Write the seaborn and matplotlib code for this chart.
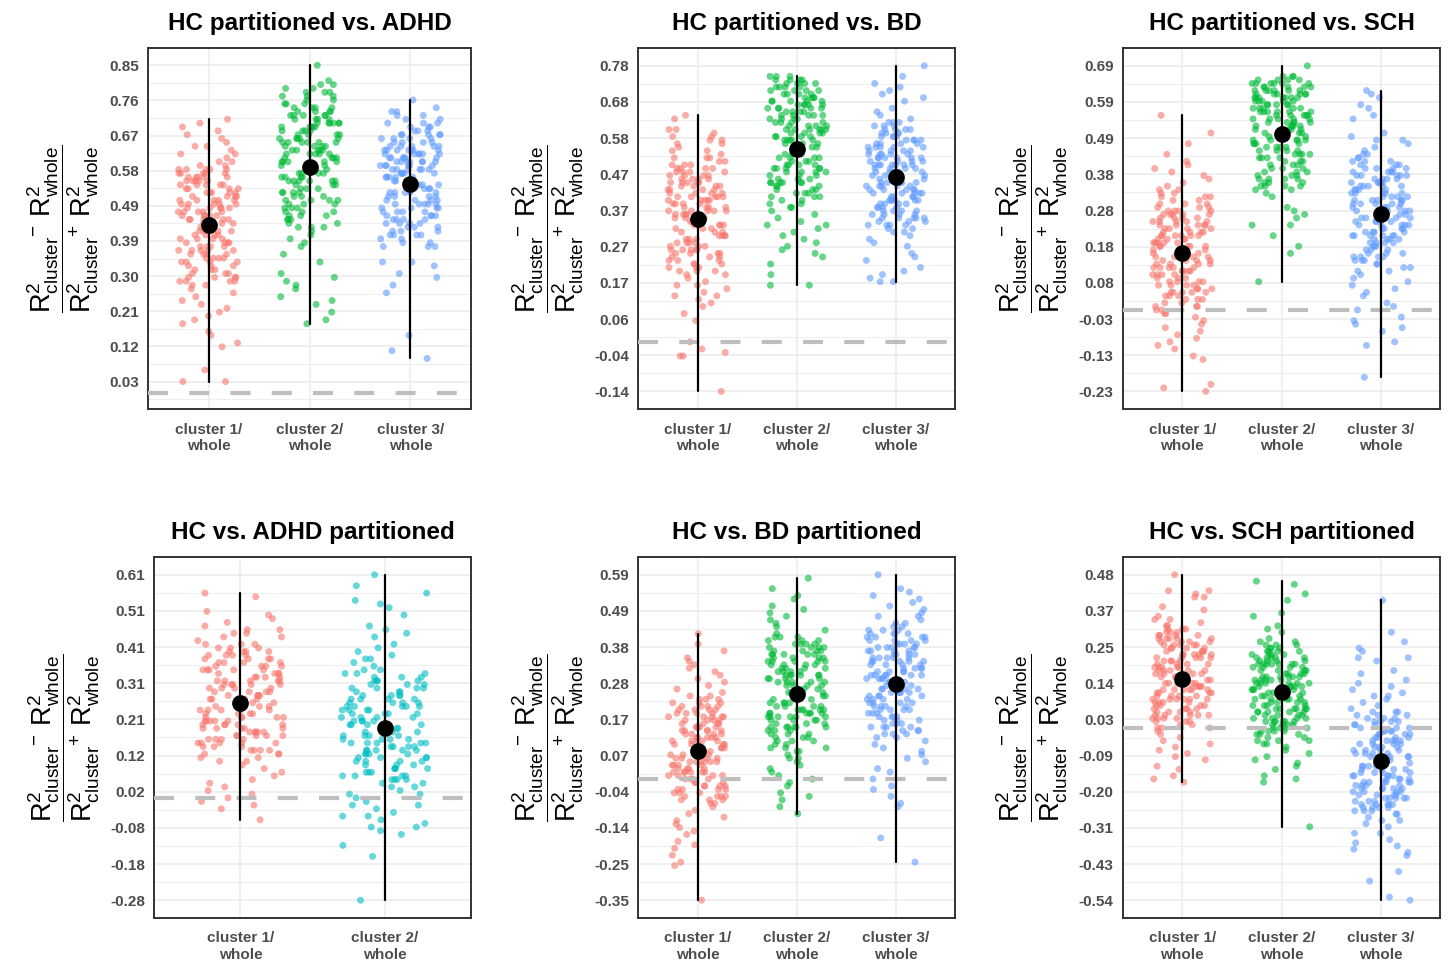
import numpy as np
import pandas as pd
import matplotlib
matplotlib.use("Agg")
import matplotlib.pyplot as plt
import seaborn as sns

# ---------------- data (values in hundredths) ----------------
CATS = ["cluster 1/\nwhole", "cluster 2/\nwhole", "cluster 3/\nwhole"]
TITLES = ["HC partitioned vs. ADHD", "HC partitioned vs. BD", "HC partitioned vs. SCH",
          "HC vs. ADHD partitioned", "HC vs. BD partitioned", "HC vs. SCH partitioned"]
PAL3 = ["#F8766D", "#00BA38", "#619CFF"]
PAL2 = ["#F8766D", "#00BFC4"]

P1_C1 = [3, 3, 6, 12, 13, 15, 16, 18, 19, 20, 21, 22,
         23, 24, 25, 26, 27, 28, 29, 29, 30, 30,
         31, 32, 33, 34, 34, 35, 35, 36, 36, 37, 37, 38, 38, 39, 39, 40, 40,
         41, 41, 42, 42, 43, 43, 44, 44, 44, 45, 45, 45, 46, 46, 46, 47, 47, 47, 48, 48, 48, 49, 49, 49, 50, 50,
         51, 51, 52, 52, 52, 53, 53, 54, 54, 54, 55, 55, 55, 56, 56, 56, 57, 57, 57, 58, 58, 58, 59, 60,
         60, 61, 62, 62, 63, 64, 64, 65, 66, 67, 68, 69, 70, 71]
P1_C1_CORE = [42, 41, 40, 39, 38, 37, 36, 35, 34, 33, 32, 31, 30, 29, 28, 41, 39, 37, 35, 33, 31, 29, 40, 38, 36, 34, 32, 30, 42, 37,
              45, 46, 47, 48, 49, 50, 51, 52, 53, 54, 55, 56, 57, 58, 59, 46, 48, 50, 52, 54, 56, 58, 47, 49, 51, 53, 55, 57, 45, 50]
P1_C2 = [18, 19, 21, 23, 24, 25, 27, 28, 29, 30, 31, 34, 36, 38,
         39, 40, 41, 42, 43, 43, 44, 45, 46, 47, 48, 49,
         50, 50, 51, 52, 53, 54, 55, 55, 56, 57, 58, 59,
         60, 60, 61, 62, 63, 63, 64, 65, 65, 66, 67, 68, 69, 69,
         70, 70, 71, 72, 72, 73, 74, 74, 75, 76, 77, 78, 79,
         80, 81, 85,
         55, 58, 60, 62, 64, 66, 68, 70, 71, 73, 75, 77, 78, 56, 63, 67, 72, 74, 76, 61, 65, 69, 57, 59,
         78, 79, 80, 73, 66, 70, 75, 77]
P1_C2_CORE = [57, 57, 56, 55, 55, 54, 53, 52, 52, 51, 50, 49, 49, 48, 47, 46, 46, 45, 44, 43, 56, 54, 53, 51, 50, 48, 47, 45, 55, 52,
              60, 60, 61, 62, 62, 63, 64, 65, 65, 66, 67, 68, 68, 69, 70, 71, 71, 72, 73, 74, 61, 63, 64, 66, 67, 69, 70, 72, 62, 65]
P1_C3 = [9, 11, 15, 26, 28, 30, 31, 33, 34, 34,
         38, 38, 39, 40, 41, 41, 42, 43, 44, 44, 45, 46, 46, 60, 61, 63,
         47, 47, 48, 48, 49, 49, 50, 50, 51, 51, 52, 52, 53, 53, 54, 54, 55, 55, 56, 56,
         57, 57, 58, 58, 59, 59, 60, 60, 61, 61, 62, 62, 63, 63, 64, 64, 65, 66,
         67, 67, 68, 69, 70, 71, 72, 73, 74, 76,
         52, 55, 57, 58, 59, 60, 61, 62, 63, 64, 65, 66, 67, 68, 69, 70, 71, 72, 73, 60, 62, 58, 56, 54]
P1_C3_CORE = [52, 51, 50, 49, 48, 47, 46, 45, 44, 43, 42, 41, 40, 39, 38, 53, 51, 49, 47, 45, 43, 41, 50, 48, 46, 44, 42, 52, 49, 45,
              56, 57, 58, 59, 60, 61, 62, 63, 64, 65, 66, 67, 68, 69, 70, 55, 57, 59, 61, 63, 65, 67, 58, 60, 62, 64, 66, 56, 59, 63]

P2_C1 = [-14, -4, -4, -3, -2, 0, 6, 8, 10, 11,
         12, 13, 13, 14, 15, 16, 16, 17, 18, 19, 20, 21, 22,
         23, 24, 25, 25, 26, 26, 27, 28, 29, 30, 31, 32,
         33, 33, 34, 35, 35, 36, 37, 37, 38, 39, 40, 40, 41, 42,
         43, 44, 45, 45, 46, 47, 48, 49, 50, 51, 52, 52,
         53, 54, 55, 56, 57, 58, 59, 60, 60, 63, 64,
         26, 30, 33, 36, 38, 40, 42, 44, 46, 48, 50, 52, 54, 37, 41, 45, 49, 35, 39, 43, 47, 51, 34, 56, 57, 58]
P2_C1_CORE = [33, 32, 31, 30, 29, 28, 27, 26, 25, 24, 23, 22, 21, 20, 19, 32, 30, 28, 26, 24, 22, 20, 31, 29, 27, 25, 23, 21, 33, 28,
              36, 37, 38, 39, 40, 41, 42, 43, 44, 45, 46, 47, 48, 49, 50, 37, 39, 41, 43, 45, 47, 49, 38, 40, 42, 44, 46, 48, 36, 41]
P2_C2 = [16, 16, 19, 22, 24, 25, 26, 27, 28, 29,
         30, 31, 32, 33, 33, 34, 35, 36, 37, 38, 39,
         40, 41, 42, 43, 44, 45, 45, 46, 47, 48, 49, 49,
         50, 51, 52, 53, 54, 55, 56, 57, 57, 58, 59, 59,
         60, 61, 62, 63, 64, 65, 66, 67, 68, 69, 69, 68, 67, 66,
         70, 70, 71, 71, 72, 72, 73, 73, 74, 74, 75, 75, 72, 73,
         45, 48, 50, 53, 55, 58, 60, 62, 64, 66, 68, 70, 71, 72, 73, 74, 74, 75, 57, 61, 65, 69, 52, 63, 67, 56, 60]
P2_C2_CORE = [52, 51, 50, 49, 48, 47, 46, 45, 44, 43, 42, 41, 40, 39, 38, 53, 51, 49, 47, 45, 43, 41, 50, 48, 46, 44, 42, 52, 49, 45,
              57, 58, 59, 60, 61, 62, 63, 64, 65, 66, 67, 68, 69, 70, 71, 56, 58, 60, 62, 64, 66, 68, 59, 61, 63, 65, 67, 57, 60, 64]
P2_C3 = [17, 17, 18, 19, 20, 21, 23, 24, 25, 27, 28, 29,
         30, 31, 32, 33, 33, 34, 35, 35, 36, 37, 37, 38, 39, 39,
         40, 40, 41, 42, 42, 43, 44, 44, 45, 45, 46, 46, 47, 48, 48, 49,
         50, 50, 51, 52, 52, 53, 54, 55, 55, 56, 57, 58, 59,
         60, 61, 62, 63, 65, 66, 68, 69,
         70, 71, 72, 73, 75, 78,
         38, 40, 42, 44, 46, 48, 50, 52, 54, 56, 58, 60, 43, 47, 51, 55, 59, 41, 45, 49, 53, 57, 36, 62, 64, 35, 61, 50, 52, 47]
P2_C3_CORE = [45, 45, 44, 43, 43, 42, 41, 40, 40, 39, 38, 37, 37, 36, 35, 34, 34, 33, 32, 31, 44, 42, 41, 39, 38, 36, 35, 33, 43, 40,
              48, 48, 49, 50, 50, 51, 52, 53, 53, 54, 55, 56, 56, 57, 58, 59, 59, 60, 61, 62, 49, 51, 52, 54, 55, 57, 58, 60, 50, 53]

P3_C1 = [-23, -22, -21, -14, -13, -11, -10, -9, -8, -7, -6, -5, -4, -3, -2, -1, -1,
         0, 1, 1, 2, 3, 4, 5, 5, 6, 7, 8, 9,
         10, 11, 12, 12, 13, 14, 15, 15, 16, 17, 18, 18, 19, 19,
         20, 21, 22, 23, 24, 25, 26, 27, 28, 29, 21, 24, 27,
         30, 31, 32, 33, 34, 35, 36, 37, 38, 39,
         40, 41, 42, 44, 47, 50, 55,
         5, 8, 10, 12, 14, 16, 18, 20, 22, 24, 26, 28, 30, 32, 34, 15, 17, 19, 21, 23, 13, 11, 25, 27, 33]
P3_C1_CORE = [14, 13, 12, 11, 10, 9, 8, 7, 6, 5, 4, 3, 2, 1, 0, 15, 13, 11, 9, 7, 5, 3, 12, 10, 8, 6, 4, 14, 11, 7,
              18, 19, 20, 21, 22, 23, 24, 25, 26, 27, 28, 29, 30, 31, 32, 17, 19, 21, 23, 25, 27, 29, 20, 22, 24, 26, 28, 18, 21, 25]
P3_C2 = [8, 16, 18, 21, 24, 24, 26, 27, 28, 29,
         32, 33, 34, 35, 35, 36, 37, 37, 38, 39, 60, 61,
         40, 41, 42, 43, 44, 44, 45, 46, 46, 47, 48, 48, 49, 49,
         50, 50, 51, 52, 53, 54, 55, 55, 56, 57, 58, 59, 59, 52, 54, 57,
         60, 60, 61, 62, 62, 63, 64, 65, 66, 69, 61, 63, 64,
         45, 48, 50, 53, 55, 56, 58, 60, 61, 62, 63, 64, 65, 66, 47, 51, 54, 57, 59, 52, 60, 62, 64, 49, 58, 56, 53, 65, 66, 50]
P3_C2_CORE = [48, 47, 46, 45, 44, 43, 42, 41, 40, 39, 38, 37, 36, 35, 34, 47, 45, 43, 41, 39, 37, 35, 46, 44, 42, 40, 38, 36, 48, 43,
              51, 52, 53, 54, 55, 56, 57, 58, 59, 60, 61, 62, 63, 64, 65, 52, 54, 56, 58, 60, 62, 64, 53, 55, 57, 59, 61, 63, 51, 56]
P3_C3 = [-19, -10, -9, -6, -5, -4, -3, -2, 0, 1,
         2, 4, 5, 6, 7, 8, 9, 10, 11, 11,
         12, 13, 14, 15, 15, 16, 17, 18, 19, 20, 21, 21,
         22, 23, 24, 25, 26, 26, 27, 28, 29, 30, 31, 31,
         32, 33, 34, 35, 35, 36, 37, 38, 39, 40, 41,
         42, 43, 44, 46, 48, 49, 50,
         54, 55, 57, 58, 60, 61, 62,
         20, 22, 24, 26, 28, 30, 32, 34, 36, 38, 40, 42, 44, 25, 29, 33, 37, 41, 27, 31, 35, 39, 23, 45, 43, 47, 19, 21, 36, 38, 48]
P3_C3_CORE = [26, 26, 25, 24, 24, 23, 22, 21, 21, 20, 19, 18, 18, 17, 16, 15, 15, 14, 13, 12, 25, 23, 22, 20, 19, 17, 16, 14, 24, 21,
              28, 28, 29, 30, 30, 31, 32, 33, 33, 34, 35, 36, 36, 37, 38, 39, 39, 40, 41, 42, 29, 31, 32, 34, 35, 37, 38, 40, 30, 33]

P4_C1 = [-6, -3, -2, -1, 0, 1, 2, 3, 4, 6, 8, 5, 9, 7,
         10, 11, 12, 13, 14, 15, 15, 16, 17, 17, 18, 18, 19, 19,
         20, 20, 21, 22, 22, 23, 24, 24, 25, 26, 27, 27, 28, 29,
         30, 31, 32, 32, 33, 34, 35, 36, 37, 38, 39, 39,
         40, 40, 41, 42, 43, 44, 45, 46, 46, 47, 48,
         49, 50, 51, 55, 56,
         12, 15, 18, 20, 22, 25, 28, 30, 32, 35, 38, 40, 42, 44, 16, 19, 23, 27, 31, 34, 37, 41, 13, 26, 29, 33, 36, 24, 21, 45]
P4_C1_CORE = [24, 23, 22, 21, 20, 19, 18, 17, 16, 15, 14, 13, 12, 11, 10, 25, 23, 21, 19, 17, 15, 13, 22, 20, 18, 16, 14, 24, 21, 17,
              28, 29, 30, 31, 32, 33, 34, 35, 36, 37, 38, 39, 40, 41, 42, 27, 29, 31, 33, 35, 37, 39, 30, 32, 34, 36, 38, 28, 31, 35]
P4_C2 = [-28, -16, -13, -10, -9, -8, -8, -7, -6, -5, -4, -3, -2, -1, -2, -5,
         0, 1, 1, 2, 3, 4, 5, 6, 6, 7, 8, 9,
         10, 11, 12, 13, 14, 15, 15, 16, 17, 18, 19,
         20, 21, 22, 23, 24, 25, 26, 27, 28, 29,
         30, 31, 32, 33, 34, 35, 36, 37, 38, 39,
         40, 41, 42, 44, 45, 46, 47,
         50, 52, 53, 54, 56, 58, 61,
         5, 10, 15, 20, 25, 30, 35, 8, 12, 18, 22, 28, 32, 38, 3, 14, 24, 34, 17, 21, 27, 11, 16, 26, 19, 23, 13]
P4_C2_CORE = [18, 17, 16, 15, 14, 13, 12, 11, 10, 9, 8, 7, 6, 5, 4, 17, 15, 13, 11, 9, 7, 5, 16, 14, 12, 10, 8, 6, 18, 13,
              20, 21, 22, 23, 24, 25, 26, 27, 28, 29, 30, 31, 32, 33, 34, 21, 23, 25, 27, 29, 31, 33, 22, 24, 26, 28, 30, 32, 20, 25]

P5_C1 = [-35, -25, -24, -22, -20, -19, -18, -16, -15, -14, -13, -12, -11,
         -10, -9, -8, -7, -6, -5, -4, -3, -2, -1, -5, -3,
         0, 1, 2, 3, 4, 5, 6, 7, 8, 9, 2, 5, 7,
         10, 11, 12, 13, 14, 15, 16, 17, 18, 19, 12, 15, 18,
         20, 21, 22, 23, 24, 25, 27, 29,
         31, 32, 33, 34, 35, 37, 39, 42,
         0, 3, 6, 9, 12, 15, 18, 21, 24, 2, 5, 8, 11, 14, 17, 20, 23, 4, 10, 16, 22, 1, 13, 19, 7, -2, -6, 26, 28, 30]
P5_C1_CORE = [7, 7, 6, 5, 5, 4, 3, 2, 2, 1, 0, -1, -1, -2, -3, -4, -4, -5, -6, -7, 6, 4, 3, 1, 0, -2, -3, -5, 5, 2,
              9, 9, 10, 11, 11, 12, 13, 14, 14, 15, 16, 17, 17, 18, 19, 20, 20, 21, 22, 23, 10, 12, 13, 15, 16, 18, 19, 21, 11, 14]
P5_C2 = [-10, -8, -6, -5, -4, -2, -1, 0, 1, 2, 18, 19,
         3, 4, 5, 6, 7, 8, 9, 10, 11, 12, 6, 9,
         13, 14, 15, 16, 17, 18, 19, 20, 21, 22, 15, 18, 20,
         23, 24, 25, 26, 27, 28, 29, 30, 31, 32, 25, 28, 30,
         33, 34, 35, 36, 37, 38, 39, 40, 41, 42, 36, 39,
         43, 44, 45, 46, 47, 48, 49, 50, 52, 53, 55, 58,
         15, 18, 20, 22, 24, 26, 28, 30, 32, 34, 36, 38, 40, 17, 21, 25, 29, 33, 37, 19, 23, 27, 31, 35, 39, 41]
P5_C2_CORE = [22, 21, 20, 19, 18, 17, 16, 15, 14, 13, 12, 11, 10, 9, 8, 23, 21, 19, 17, 15, 13, 11, 20, 18, 16, 14, 12, 22, 19, 15,
              27, 28, 29, 30, 31, 32, 33, 34, 35, 36, 37, 38, 39, 40, 41, 26, 28, 30, 32, 34, 36, 38, 29, 31, 33, 35, 37, 27, 30, 34]
P5_C3 = [-24, -17, -8, -7, -5, -3, -2, 0, 30,
         2, 3, 5, 6, 7, 8, 9, 10, 11,
         12, 13, 14, 15, 16, 17, 18, 19, 20, 21, 15, 18,
         22, 23, 24, 25, 26, 27, 28, 29, 30, 31, 25, 28, 30,
         32, 33, 34, 35, 36, 37, 38, 39, 40, 41, 35, 38,
         42, 43, 44, 45, 46, 47, 48, 49, 50, 51,
         52, 53, 54, 55, 59,
         20, 23, 26, 29, 32, 35, 38, 41, 44, 22, 25, 28, 31, 34, 37, 40, 43, 24, 27, 30, 33, 36, 39, 42, 45, 47]
P5_C3_CORE = [26, 25, 24, 23, 22, 21, 20, 19, 18, 17, 16, 15, 14, 13, 12, 25, 23, 21, 19, 17, 15, 13, 24, 22, 20, 18, 16, 14, 26, 21,
              29, 30, 31, 32, 33, 34, 35, 36, 37, 38, 39, 40, 41, 42, 43, 30, 32, 34, 36, 38, 40, 42, 31, 33, 35, 37, 39, 41, 29, 34]

P6_C1 = [-17, -16, -15, -13, -12, -10, -9, -8, -7, -5, -4, -3, -1, 0, -2, -6, 0,
         1, 2, 3, 4, 5, 6, 7, 8, 9, 10, 4, 7, 9,
         11, 12, 13, 14, 15, 16, 17, 18, 19, 20, 12, 14, 16, 18,
         21, 22, 23, 24, 25, 26, 27, 28, 29, 30, 23, 26, 28,
         31, 32, 33, 34, 35, 37, 38,
         41, 41, 42, 43, 43, 48,
         5, 8, 11, 14, 17, 20, 23, 26, 29, 32, 6, 9, 12, 15, 18, 21, 24, 27, 30, 13, 16, 19, 22, 25, 10, 28, 31, 3, 34, 4]
P6_C1_CORE = [14, 14, 13, 12, 12, 11, 10, 9, 9, 8, 7, 6, 6, 5, 4, 3, 3, 2, 1, 0, 13, 11, 10, 8, 7, 5, 4, 2, 12, 9,
              17, 17, 18, 19, 19, 20, 21, 22, 22, 23, 24, 25, 25, 26, 27, 28, 28, 29, 30, 31, 18, 20, 21, 23, 24, 26, 27, 29, 19, 22]
P6_C2 = [-31, -17, -16, -15, -13, -12, -11, -10, -9, -8, -7, -6, -5, -4, -3,
         -2, -1, 0, 1, 2, 3, 4, 5, 6, 7, 2, 5,
         8, 9, 10, 11, 12, 13, 14, 15, 16, 17, 10, 12, 14, 16, 11, 13,
         18, 19, 20, 21, 22, 23, 24, 25, 26, 27, 20, 22,
         28, 30, 31, 32, 35, 36, 40, 42, 45, 46,
         0, 3, 6, 9, 12, 15, 18, 21, 24, 1, 4, 7, 10, 13, 16, 19, 22, 2, 5, 8, 11, 14, 17, 20, 23, -4, -1, 6, 9, 13, 15, 25, 14, 26, 20]
P6_C2_CORE = [9, 8, 7, 6, 5, 4, 3, 2, 1, 0, -1, -2, -3, -4, -5, 10, 8, 6, 4, 2, 0, -2, 7, 5, 3, 1, -1, 9, 6, 2,
              13, 14, 15, 16, 17, 18, 19, 20, 21, 22, 23, 24, 25, 26, 27, 12, 14, 16, 18, 20, 22, 24, 15, 17, 19, 21, 23, 13, 16, 20]
P6_C3 = [40, 30, 27, 25, 24, 22, 22, 21, 18, 17, 15, 14, 13, 12, 11, 10, 10,
         9, 8, 7, 6, 5, 4, 3, 2, 1, 0, 5, 2,
         -1, -2, -3, -4, -5, -6, -7, -8, -9, -10, -3, -6, -8,
         -11, -12, -13, -14, -15, -16, -17, -18, -19, -20, -13, -15, -17, -19,
         -21, -22, -23, -24, -25, -26, -27, -28, -29, -30, -22, -24, -26,
         -31, -33, -35, -36, -37, -38, -39, -40, -45, -48, -53, -54,
         -5, -10, -15, -20, -25, -2, -7, -12, -17, -22, -4, -9, -14, -19, -24, -1, -16, -27, -29, -33, -18, -21]
P6_C3_CORE = [-12, -13, -14, -15, -16, -17, -18, -19, -20, -21, -22, -23, -24, -25, -26, -13, -15, -17, -19, -21, -23, -25, -14, -16, -18, -20, -22, -24, -12, -17,
              -9, -8, -7, -6, -5, -4, -3, -2, -1, 0, 1, 2, 3, 4, 5, -8, -6, -4, -2, 0, 2, 4, -7, -5, -3, -1, 1, 3, -9, -4]

PANEL_DATA = [
    [P1_C1 + P1_C1_CORE, P1_C2 + P1_C2_CORE, P1_C3 + P1_C3_CORE],
    [P2_C1 + P2_C1_CORE, P2_C2 + P2_C2_CORE, P2_C3 + P2_C3_CORE],
    [P3_C1 + P3_C1_CORE, P3_C2 + P3_C2_CORE, P3_C3 + P3_C3_CORE],
    [P4_C1 + P4_C1_CORE, P4_C2 + P4_C2_CORE],
    [P5_C1 + P5_C1_CORE, P5_C2 + P5_C2_CORE, P5_C3 + P5_C3_CORE],
    [P6_C1 + P6_C1_CORE, P6_C2 + P6_C2_CORE, P6_C3 + P6_C3_CORE],
]

# ---------------- style ----------------
sns.set_theme(style="white")
plt.rcParams["font.family"] = ["Liberation Sans", "DejaVu Sans"]
plt.rcParams["mathtext.fontset"] = "custom"
plt.rcParams["mathtext.rm"] = "Liberation Sans"
plt.rcParams["mathtext.it"] = "Liberation Sans:italic"
plt.rcParams["mathtext.bf"] = "Liberation Sans:bold"
np.random.seed(7)

YLAB = (r"$\dfrac{\mathrm{R}^{2}_{\mathrm{cluster}}{}^{-}\ \mathrm{R}^{2}_{\mathrm{whole}}}"
        r"{\mathrm{R}^{2}_{\mathrm{cluster}}{}^{+}\ \mathrm{R}^{2}_{\mathrm{whole}}}$")

W, H = 1448, 963
fig = plt.figure(figsize=(W / 100, H / 100), dpi=100)

# panel rectangles in pixels: left, top, right, bottom
RECTS = [(148, 47.7, 471, 409.5), (638.3, 47.7, 955.5, 409.5), (1122.7, 47.7, 1440.3, 409.5),
         (154, 556.7, 471, 918.3), (638.3, 556.7, 955.5, 918.3), (1122.7, 556.7, 1440.3, 918.3)]

for title, groups, (l, t, r, b) in zip(TITLES, PANEL_DATA, RECTS):
    labels = CATS[:len(groups)]
    pal = PAL3 if len(groups) == 3 else PAL2
    vals = np.concatenate([np.asarray(g, dtype=float) / 100 for g in groups])
    cats = np.concatenate([[lab] * len(g) for lab, g in zip(labels, groups)])
    df = pd.DataFrame({"group": cats, "value": vals})

    ax = fig.add_axes([l / W, 1 - b / H, (r - l) / W, (b - t) / H])
    sns.stripplot(data=df, x="group", y="value", hue="group", order=labels, hue_order=labels,
                  palette=pal, jitter=0.3, size=5.0, alpha=0.6, linewidth=0, legend=False,
                  ax=ax, zorder=3)
    ax.axhline(0, color="#BEBEBE", lw=3, dashes=(4.8, 5.1), zorder=4)
    sns.pointplot(data=df, x="group", y="value", order=labels, estimator="mean",
                  errorbar=lambda v: (v.min(), v.max()), color="black", markers="o",
                  linestyle="none", markersize=10, err_kws={"linewidth": 1.6, "zorder": 5},
                  ax=ax, zorder=6)

    lo, hi = vals.min(), vals.max()
    major = np.linspace(lo, hi, 10)
    step = major[1] - major[0]
    ymin, ymax = min(lo, 0), max(hi, 0)
    pad = 0.05 * (ymax - ymin)
    ax.set_ylim(ymin - pad, ymax + pad)
    ax.set_yticks(major)
    ax.set_yticklabels([f"{v:.2f}" for v in major])
    minor = np.concatenate([[lo - step / 2], (major[:-1] + major[1:]) / 2, [hi + step / 2]])
    ax.set_yticks(minor, minor=True)
    ax.set_xticks(range(len(labels)))
    ax.set_xticklabels(labels, linespacing=1.2)
    ax.set_xlim(-0.6, len(labels) - 0.4)

    ax.grid(True, which="major", color="#EBEBEB", lw=1.1)
    ax.grid(True, which="minor", axis="y", color="#EBEBEB", lw=0.6)
    ax.set_axisbelow(True)
    ax.tick_params(axis="both", which="major", length=3.5, width=1, color="#333333",
                   labelsize=11, labelcolor="#4D4D4D", pad=3)
    ax.tick_params(axis="x", which="major", pad=6)
    ax.tick_params(axis="both", which="minor", length=0)
    for lab in ax.get_xticklabels() + ax.get_yticklabels():
        lab.set_fontweight("bold")
    for s in ax.spines.values():
        s.set_visible(True)
        s.set_color("#333333")
        s.set_linewidth(1.4)
    ax.set_xlabel("")
    ax.set_ylabel(YLAB, fontsize=19.5, labelpad=6, color="black")
    ax.set_title(title, fontsize=17.5, fontweight="bold", pad=13, color="black")

fig.savefig("out.png", dpi=100, facecolor="white")
